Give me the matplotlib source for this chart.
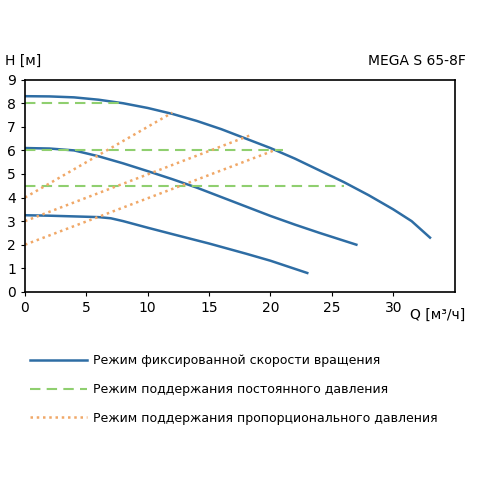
import matplotlib
matplotlib.use("Agg")
import matplotlib.pyplot as plt
from matplotlib.lines import Line2D

c1_q = [0, 2, 4, 6, 8, 10, 12, 14, 16, 18, 20, 22, 24, 26, 28, 30, 31.5, 33]
c1_h = [8.3, 8.29, 8.25, 8.15, 8.0, 7.8, 7.55, 7.25, 6.9, 6.5, 6.1, 5.65, 5.15, 4.65, 4.1, 3.5, 3.0, 2.3]
c2_q = [0, 2, 4, 6, 8, 10, 12, 14, 16, 18, 20, 22, 24, 27]
c2_h = [6.1, 6.08, 6.0, 5.75, 5.45, 5.12, 4.78, 4.42, 4.02, 3.62, 3.22, 2.85, 2.5, 2.0]
c3_q = [0, 2, 4, 6, 7, 8, 10, 12, 15, 18, 20, 23]
c3_h = [3.25, 3.23, 3.2, 3.17, 3.12, 3.0, 2.72, 2.45, 2.05, 1.62, 1.32, 0.8]
const_h = [8, 6, 4.5]
const_qmax = [8, 21, 26]
prop_q0 = [0, 0, 0]; prop_h0 = [4, 3, 2]
prop_q1 = [12, 18.4, 20.3]; prop_h1 = [7.6, 6.65, 6.0]

blue = "#2e6da4"; green = "#8fcf6f"; orange = "#f0a868"
fig = plt.figure(figsize=(4.8, 4.8), dpi=100)
ax = fig.add_axes([0.052, 0.392, 0.895, 0.442])
for q, h in [(c1_q, c1_h), (c2_q, c2_h), (c3_q, c3_h)]:
    ax.plot(q, h, color=blue, lw=1.8)
for h, qm in zip(const_h, const_qmax):
    ax.plot([0, qm], [h, h], color=green, lw=1.5, ls=(0, (5, 3)))
for a, b, c, d in zip(prop_q0, prop_h0, prop_q1, prop_h1):
    ax.plot([a, c], [b, d], color=orange, lw=1.8, ls=(0, (1, 1.5)))
ax.set_xlim(0, 35); ax.set_ylim(0, 9)
ax.set_xticks(range(0, 31, 5)); ax.set_yticks(range(0, 10))
ax.tick_params(labelsize=10, length=3)
for s in ax.spines.values(): s.set_linewidth(1.2)
fig.text(0.01, 0.865, "H [м]", fontsize=10)
fig.text(0.97, 0.865, "MEGA S 65-8F", fontsize=10, ha="right")
fig.text(0.97, 0.335, "Q [м³/ч]", fontsize=10, ha="right")
handles = [Line2D([], [], color=blue, lw=1.8),
           Line2D([], [], color=green, lw=1.5, ls=(0, (5, 3))),
           Line2D([], [], color=orange, lw=1.8, ls=(0, (1, 1.5)))]
labels = ["Режим фиксированной скорости вращения",
          "Режим поддержания постоянного давления",
          "Режим поддержания пропорционального давления"]
fig.legend(handles, labels, loc="upper left", bbox_to_anchor=(0.04, 0.285),
           frameon=False, fontsize=9, handlelength=4.5, handletextpad=0.5,
           labelspacing=1.25)
fig.savefig("out.png", dpi=100)
